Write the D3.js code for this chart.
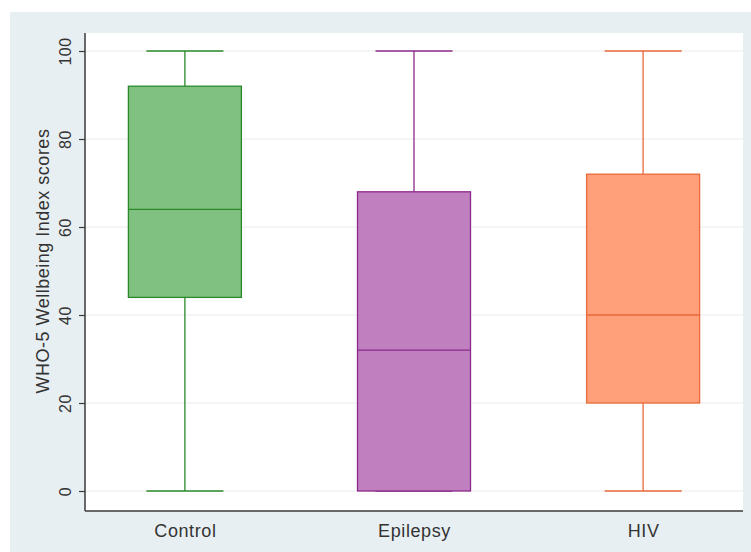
<!DOCTYPE html>
<html><head><meta charset="utf-8">
<script src="https://cdn.jsdelivr.net/npm/d3@7"></script>
<style>html,body{margin:0;padding:0;background:#fff;}svg{display:block;}</style>
</head><body>
<script>
const categories = ["Control", "Epilepsy", "HIV"];
const mins    = [0, 0, 0];
const q1s     = [44, 0, 20];
const medians = [64, 32, 40];
const q3s     = [92, 68, 72];
const maxs    = [100, 100, 100];
const yTicks  = [0, 20, 40, 60, 80, 100];
const yTitle  = "WHO-5 Wellbeing Index scores";
const fills   = ["#80c080", "#c080c0", "#ffa07a"];
const strokes = ["#2a8a2a", "#8a2a8a", "#e8693a"];

(function () {
const W = 751, H = 552;
const font = "'Liberation Sans', Arial, sans-serif";
const svg = d3.select("body").append("svg").attr("width", W).attr("height", H);
svg.append("rect").attr("x", 10).attr("y", 12).attr("width", W - 10).attr("height", H - 12).attr("fill", "#e8eff2");

const pL = 85, pR = 743, pT = 33, pB = 511;
svg.append("rect").attr("x", pL).attr("y", pT).attr("width", pR - pL).attr("height", pB - pT).attr("fill", "#fff");

const y = d3.scaleLinear().domain([0, 100]).range([491, 51]);
const x = d3.scalePoint().domain(categories).range([pL, pR]).padding(0.436);

// gridlines
svg.append("g").selectAll("line").data(yTicks).join("line")
  .attr("x1", pL).attr("x2", pR)
  .attr("y1", d => y(d)).attr("y2", d => y(d))
  .attr("stroke", "#ebebeb").attr("stroke-width", 1);

const data = categories.map((c, i) => ({c, i, min: mins[i], q1: q1s[i], med: medians[i], q3: q3s[i], max: maxs[i]}));
const boxW = 113, capW = 77;
const g = svg.append("g").selectAll("g").data(data).join("g");
// whiskers
g.append("line").attr("x1", d => x(d.c)).attr("x2", d => x(d.c))
  .attr("y1", d => y(d.max)).attr("y2", d => y(d.q3))
  .attr("stroke", d => strokes[d.i]).attr("stroke-width", 1.3);
g.append("line").attr("x1", d => x(d.c)).attr("x2", d => x(d.c))
  .attr("y1", d => y(d.q1)).attr("y2", d => y(d.min))
  .attr("stroke", d => strokes[d.i]).attr("stroke-width", 1.3);
// caps
g.append("line").attr("x1", d => x(d.c) - capW / 2).attr("x2", d => x(d.c) + capW / 2)
  .attr("y1", d => y(d.max)).attr("y2", d => y(d.max))
  .attr("stroke", d => strokes[d.i]).attr("stroke-width", 1.3);
g.append("line").attr("x1", d => x(d.c) - capW / 2).attr("x2", d => x(d.c) + capW / 2)
  .attr("y1", d => y(d.min)).attr("y2", d => y(d.min))
  .attr("stroke", d => strokes[d.i]).attr("stroke-width", 1.3);
// boxes
g.append("rect").attr("x", d => x(d.c) - boxW / 2).attr("width", boxW)
  .attr("y", d => y(d.q3)).attr("height", d => y(d.q1) - y(d.q3))
  .attr("fill", d => fills[d.i]).attr("stroke", d => strokes[d.i]).attr("stroke-width", 1.3);
g.append("line").attr("x1", d => x(d.c) - boxW / 2).attr("x2", d => x(d.c) + boxW / 2)
  .attr("y1", d => y(d.med)).attr("y2", d => y(d.med))
  .attr("stroke", d => strokes[d.i]).attr("stroke-width", 1.3);

// y axis
const yAxis = svg.append("g").attr("transform", `translate(${pL},0)`)
  .call(d3.axisLeft(y).tickValues(yTicks).tickSize(6).tickPadding(0).tickFormat(d3.format("d")));
yAxis.select(".domain").attr("d", `M0,${pT}V${pB}`).attr("stroke", "#3a3a3a").attr("stroke-width", 1.5);
yAxis.selectAll(".tick line").attr("stroke", "#3a3a3a").attr("stroke-width", 1.2);
yAxis.selectAll(".tick text").attr("transform", "rotate(-90)")
  .attr("x", 0).attr("y", -14).attr("dy", 0)
  .attr("text-anchor", "middle").attr("fill", "#333")
  .style("font-family", font).style("font-size", "16px").style("letter-spacing", "0.5px");

// x axis
const xAxis = svg.append("g").attr("transform", `translate(0,${pB})`)
  .call(d3.axisBottom(x).tickSize(0).tickPadding(0));
xAxis.select(".domain").attr("d", `M${pL},0H${pR}`).attr("stroke", "#3a3a3a").attr("stroke-width", 1.5);
xAxis.selectAll(".tick text").attr("y", 26).attr("dy", 0).attr("fill", "#333")
  .style("font-family", font).style("font-size", "18px").style("letter-spacing", "0.6px");

// y title
svg.append("text").attr("transform", `translate(49,261) rotate(-90)`)
  .attr("text-anchor", "middle").attr("fill", "#333")
  .style("font-family", font).style("font-size", "18px").style("letter-spacing", "0.5px")
  .text(yTitle);
})();
</script>
</body></html>
